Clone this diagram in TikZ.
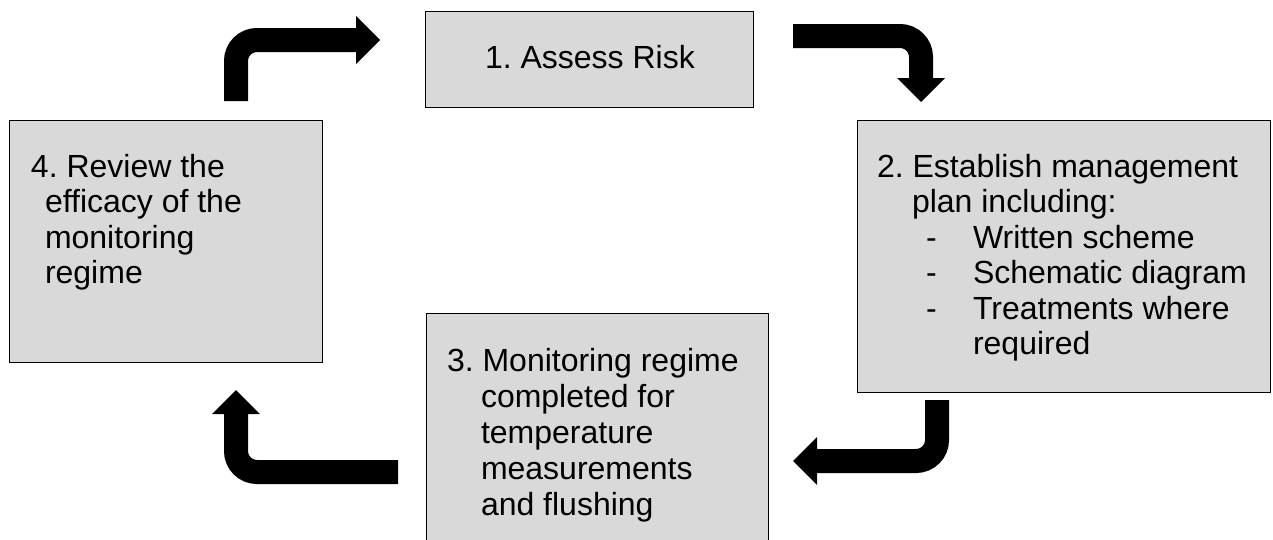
\documentclass[tikz,border=0pt]{standalone}
\usepackage{fontspec}
\setmainfont{Liberation Sans}
\usetikzlibrary{arrows.meta}
\definecolor{boxgray}{HTML}{D9D9D9}
\frenchspacing
\tikzset{
  box/.style={draw=black, line width=0.75pt, fill=boxgray, rectangle, inner sep=0pt, outer sep=0pt},
  txt/.style={anchor=base west, inner sep=0pt, outer sep=0pt, font=\fontsize{24pt}{28pt}\selectfont},
  bigarrow/.style={draw=black, line width=18pt, rounded corners=15.75pt,
    -{Triangle[length=18pt,width=36pt,line width=0pt]}}
}
\begin{document}
\begin{tikzpicture}[x=0.75pt,y=-0.75pt]
\path[use as bounding box] (0,0) rectangle (1273,539);
\clip (0,0) rectangle (1273,539);

% boxes
\node[box, minimum width=246pt, minimum height=72pt] (b1) at (589,59) {};
\node[box, minimum width=309.75pt, minimum height=204pt] (b2) at (1063.5,256) {};
\node[box, minimum width=256.5pt, minimum height=185.25pt] (b3) at (597,436.5) {};
\node[box, minimum width=234.75pt, minimum height=181.5pt] (b4) at (165.5,241) {};

% texts
\node[txt] (t1) at (485,68) {1. Assess Risk};

\foreach \x/\y/\t [count=\i] in {
  877/177/2. Establish management,
  912/212.5/plan including:,
  973/248/Written scheme,
  973/283.5/Schematic diagram,
  973/319/Treatments where,
  973/354.5/required}
  \node[txt] (t2-\i) at (\x,\y) {\t};
\foreach \y [count=\i] in {248,283.5,319}
  \node[txt] (d2-\i) at (926,\y) {-};

\foreach \x/\y/\t [count=\i] in {
  447/371/3. Monitoring regime,
  481/407/completed for,
  481/443/temperature,
  481/479/measurements,
  481/515/and flushing}
  \node[txt] (t3-\i) at (\x,\y) {\t};

\foreach \x/\y/\t [count=\i] in {
  31/177/4. Review the,
  45/212.5/efficacy of the,
  45/248/monitoring,
  45/283.5/regime}
  \node[txt] (t4-\i) at (\x,\y) {\t};

% arrows
\coordinate (a1s) at (236,101);
\coordinate (a1e) at (380,40);
\coordinate (a2s) at (793,36);
\coordinate (a2e) at (921,102);
\coordinate (a3s) at (937,400);
\coordinate (a3e) at (793,461);
\coordinate (a4s) at (398,472);
\coordinate (a4e) at (236,390);

\draw[bigarrow] (a1s) |- (a1e);
\draw[bigarrow] (a2s) -| (a2e);
\draw[bigarrow] (a3s) |- (a3e);
\draw[bigarrow] (a4s) -| (a4e);
\end{tikzpicture}
\end{document}
